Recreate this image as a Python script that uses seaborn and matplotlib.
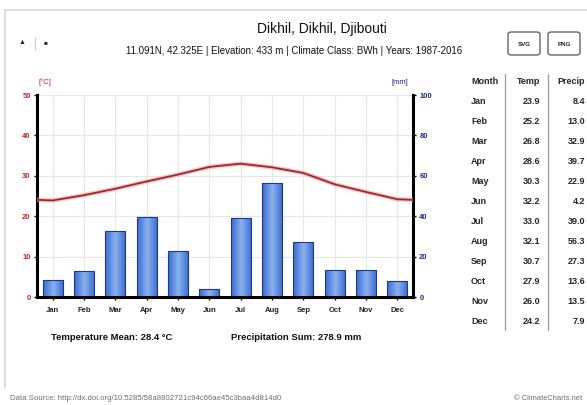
import numpy as np
import pandas as pd
import matplotlib
matplotlib.use("Agg")
import matplotlib.pyplot as plt
from matplotlib.patches import FancyBboxPatch
from matplotlib.colors import LinearSegmentedColormap
from matplotlib.lines import Line2D
import seaborn as sns

# Monthly climate normals for Dikhil
months = ["Jan", "Feb", "Mar", "Apr", "May", "Jun",
          "Jul", "Aug", "Sep", "Oct", "Nov", "Dec"]
temp_c = [23.9, 25.2, 26.8, 28.6, 30.3, 32.2, 33.0, 32.1, 30.7, 27.9, 26.0, 24.2]
precip_mm = [8.4, 13.0, 32.9, 39.7, 22.9, 4.2, 39.0, 56.3, 27.3, 13.6, 13.5, 7.9]

title = "Dikhil, Dikhil, Djibouti"
subtitle = "11.091N, 42.325E | Elevation: 433 m | Climate Class: BWh | Years: 1987-2016"
temp_mean_text = "Temperature Mean: 28.4 °C"
precip_sum_text = "Precipitation Sum: 278.9 mm"
source_text = "Data Source: http://dx.doi.org/10.5285/58a8802721c94c66ae45c3baa4d814d0"
credit_text = "© ClimateCharts.net"

sns.set_theme(style="white")
plt.rcParams["font.family"] = ["Liberation Sans", "DejaVu Sans"]

RED = "#c0282d"
NAVY = "#1b2f86"
LINE = "#a3262b"

fig = plt.figure(figsize=(5.87, 4.05), dpi=100)
W, H = 587, 405


def fx(px):
    return px / W


def fy(py):
    return 1 - py / H


# light frame around the chart card
for (x0, y0, x1, y1) in [(5, 10, 587, 10), (5, 10, 5, 388)]:
    fig.add_artist(Line2D([fx(x0), fx(x1)], [fy(y0), fy(y1)],
                          color="#d6d6d6", lw=1.2))

ax = fig.add_axes([fx(37), fy(297), fx(413) - fx(37), (297 - 95) / H])
df = pd.DataFrame({"month": months, "temp": temp_c, "precip": precip_mm})

# precipitation bars (right axis scale 0-100 mm)
sns.barplot(data=df, x="month", y="precip", ax=ax, width=0.64,
            color="#5b8be0", edgecolor="#1c3a8a", linewidth=0.8, zorder=2)

# horizontal gradient inside each bar
grad_cmap = LinearSegmentedColormap.from_list(
    "bar", ["#3a6ad0", "#8ab2f0", "#3a6ad0"])
grad = np.linspace(0, 1, 64).reshape(1, -1)
for p in ax.patches:
    x0, y0 = p.get_x(), p.get_y()
    w, h = p.get_width(), p.get_height()
    im = ax.imshow(grad, cmap=grad_cmap, aspect="auto",
                   extent=(x0, x0 + w, y0, y0 + h), zorder=2.1)
    im.set_clip_path(p)
    p.set_facecolor("none")
    p.set_zorder(2.2)
ax.set_xlim(-0.5, 11.5)
ax.set_ylim(0, 100)

# grid
for i in range(len(months)):
    ax.axvline(i, color="#e6e6e6", lw=0.8, zorder=0)
for v in range(20, 101, 20):
    ax.axhline(v, color="#e6e6e6", lw=0.8, zorder=0)

# temperature curve on a twin axis (0-50 °C), wrapped Dec/Jan at the edges
ax_t = ax.twinx()
edge_val = (temp_c[0] + temp_c[-1]) / 2
line_x = [-0.5] + list(range(len(months))) + [11.5]
line_y = [edge_val] + temp_c + [edge_val]
sns.lineplot(x=line_x, y=line_y, ax=ax_t, color="#e8a0a0", lw=3.2,
             alpha=0.6, zorder=3)
sns.lineplot(x=line_x, y=line_y, ax=ax_t, color=LINE, lw=1.3, zorder=4)
ax_t.set_ylim(0, 50)
ax_t.set_xlim(-0.5, 11.5)

# precipitation scale on the right, temperature scale on the left
ax.yaxis.tick_right()
ax.yaxis.set_label_position("right")
ax.set_yticks(range(0, 101, 20))
ax.set_yticklabels([str(v) for v in range(0, 101, 20)], color=NAVY,
                   fontsize=5.5, fontweight="bold")
ax.set_xticks(range(len(months)))
ax.set_xticklabels(months, fontsize=5.5, fontweight="bold", color="#222222")
ax.tick_params(axis="y", which="both", left=False, right=True,
               labelleft=False, labelright=True, length=2.5, width=1,
               pad=2, color="black")
ax.tick_params(axis="x", bottom=True, length=2.5, width=1, pad=5, color="black")
ax.set_xlabel("")
ax.set_ylabel("")
for side in ["top", "left"]:
    ax.spines[side].set_visible(False)
for side in ["right", "bottom"]:
    ax.spines[side].set_visible(True)
    ax.spines[side].set_linewidth(2.2)
    ax.spines[side].set_color("black")

ax_t.yaxis.tick_left()
ax_t.yaxis.set_label_position("left")
ax_t.set_yticks(range(0, 51, 10))
ax_t.set_yticklabels([str(v) for v in range(0, 51, 10)], color=RED,
                     fontsize=5.5, fontweight="bold")
ax_t.tick_params(axis="y", which="both", left=True, right=False,
                 labelleft=True, labelright=False, length=2.5,
                 width=1, pad=2, color="black")
ax_t.set_ylabel("")
for side in ["top", "right", "bottom"]:
    ax_t.spines[side].set_visible(False)
ax_t.spines["left"].set_visible(True)
ax_t.spines["left"].set_linewidth(2.2)
ax_t.spines["left"].set_color("black")
ax_t.grid(False)
ax.grid(False)

# axis units
fig.text(fx(45), fy(82), "[°C]", color=RED, fontsize=5.5, ha="center",
         va="center")
fig.text(fx(400), fy(82), "[mm]", color=NAVY, fontsize=5.5, ha="center",
         va="center")

# headings
fig.text(fx(322), fy(29), title, fontsize=10, ha="center", va="center",
         color="#111111")
fig.text(fx(294), fy(51), subtitle, fontsize=7.0, ha="center", va="center",
         color="#111111")

# toolbar glyphs
fig.text(fx(22), fy(43), "\u25b2", fontsize=5, ha="center", va="center",
         color="#222222")
fig.add_artist(Line2D([fx(35), fx(35)], [fy(37), fy(50)], color="#cccccc",
                      lw=0.8))
fig.text(fx(45), fy(43), "\u25a0", fontsize=4.5, ha="center", va="center",
         color="#222222")

# export buttons
for label, cx in [("SVG", 524), ("PNG", 564)]:
    bx = FancyBboxPatch((fx(cx - 16), fy(55)), fx(32), 23 / H,
                        boxstyle="round,pad=0,rounding_size=0.006",
                        transform=fig.transFigure, fc="white",
                        ec="#666666", lw=1.0)
    fig.add_artist(bx)
    fig.text(fx(cx), fy(44), label, fontsize=4.5, ha="center", va="center",
             color="#222222", fontweight="bold")

# data table
col_month, col_temp, col_prec = 471, 540, 585
fs_tab = 6.5
fig.text(fx(col_month), fy(82), "Month", fontsize=fs_tab, fontweight="bold",
         ha="left", va="center")
fig.text(fx(col_temp), fy(82), "Temp", fontsize=fs_tab, fontweight="bold",
         ha="right", va="center")
fig.text(fx(col_prec), fy(82), "Precip", fontsize=fs_tab, fontweight="bold",
         ha="right", va="center")
for i, m in enumerate(months):
    yy = fy(102 + 20 * i)
    fig.text(fx(col_month), yy, m, fontsize=fs_tab, fontweight="bold",
             ha="left", va="center")
    fig.text(fx(col_temp), yy, f"{temp_c[i]:.1f}", fontsize=fs_tab,
             fontweight="bold", ha="right", va="center")
    fig.text(fx(col_prec), yy, f"{precip_mm[i]:.1f}", fontsize=fs_tab,
             fontweight="bold", ha="right", va="center")
for sx in (505, 548):
    fig.add_artist(Line2D([fx(sx), fx(sx)], [fy(74), fy(330)],
                          color="#9a9a9a", lw=0.9))

# summary
fig.text(fx(112), fy(337), temp_mean_text, fontsize=6.8, fontweight="bold",
         ha="center", va="center", color="#111111")
fig.text(fx(296), fy(337), precip_sum_text, fontsize=6.8, fontweight="bold",
         ha="center", va="center", color="#111111")

# footer
fig.text(fx(10), fy(398), source_text, fontsize=5.6, ha="left", va="center",
         color="#6f6f6f")
fig.text(fx(582), fy(398), credit_text, fontsize=5.4, ha="right",
         va="center", color="#6f6f6f")

fig.savefig("out.png", dpi=100)
